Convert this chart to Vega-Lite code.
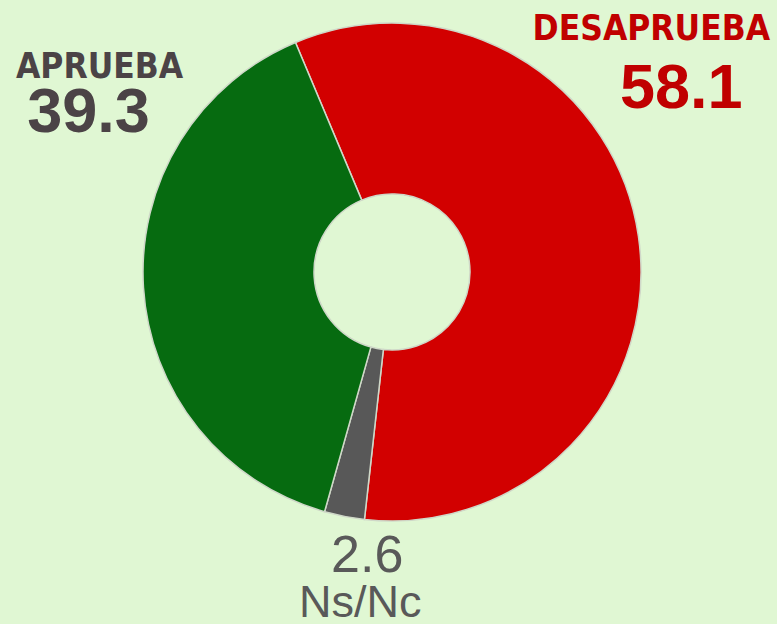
{
  "$schema": "https://vega.github.io/schema/vega-lite/v6.json",
  "width": 770,
  "height": 544,
  "autosize": {"type": "none"},
  "padding": {"left": 7, "right": 0, "top": 0, "bottom": 80},
  "background": "#E0F7D3",
  "config": {"view": {"stroke": null}},
  "data": {
    "values": [
      {"cat": "DESAPRUEBA", "value": 58.1, "order": 1},
      {"cat": "Ns/Nc", "value": 2.6, "order": 2},
      {"cat": "APRUEBA", "value": 39.3, "order": 3}
    ]
  },
  "encoding": {
    "theta": {"field": "value", "type": "quantitative", "stack": true, "scale": {"range": [-0.398, 5.885]}},
    "order": {"field": "order", "type": "quantitative"}
  },
  "layer": [
    {
      "mark": {"type": "arc", "outerRadius": 249, "innerRadius": 78, "stroke": "#cfd8c8", "strokeWidth": 1.5},
      "encoding": {
        "color": {"field": "cat", "type": "nominal", "legend": null,
          "scale": {"domain": ["DESAPRUEBA", "Ns/Nc", "APRUEBA"], "range": ["#D20000", "#585858", "#066B10"]}}
      }
    },
    {
      "mark": {"type": "text", "radius": 260, "dx": 2, "dy": -195, "align": "center", "baseline": "alphabetic", "font": "DejaVu Sans Condensed", "fontWeight": "bold", "fontSize": 35, "color": "#C00000"},
      "encoding": {"text": {"condition": {"test": "datum.cat === 'DESAPRUEBA'", "field": "cat"}, "value": ""}}
    },
    {
      "mark": {"type": "text", "radius": 260, "dx": 32, "dy": -127, "align": "center", "baseline": "alphabetic", "font": "Liberation Sans", "fontWeight": "bold", "fontSize": 63, "color": "#C00000"},
      "encoding": {"text": {"condition": {"test": "datum.cat === 'DESAPRUEBA'", "field": "value", "format": ".1f"}, "value": ""}}
    },
    {
      "mark": {"type": "text", "radius": 260, "dx": -33, "dy": -210, "align": "center", "baseline": "alphabetic", "font": "DejaVu Sans Condensed", "fontWeight": "bold", "fontSize": 35, "color": "#4B4346"},
      "encoding": {"text": {"condition": {"test": "datum.cat === 'APRUEBA'", "field": "cat"}, "value": ""}}
    },
    {
      "mark": {"type": "text", "radius": 260, "dx": -44, "dy": -156, "align": "center", "baseline": "alphabetic", "font": "Liberation Sans", "fontWeight": "bold", "fontSize": 63, "color": "#4B4346"},
      "encoding": {"text": {"condition": {"test": "datum.cat === 'APRUEBA'", "field": "value", "format": ".1f"}, "value": ""}}
    },
    {
      "mark": {"type": "text", "radius": 260, "dx": 25, "dy": 45, "align": "center", "baseline": "alphabetic", "font": "Liberation Sans", "fontSize": 52, "color": "#595959"},
      "encoding": {"text": {"condition": {"test": "datum.cat === 'Ns/Nc'", "field": "value", "format": ".1f"}, "value": ""}}
    },
    {
      "mark": {"type": "text", "radius": 260, "dx": 18, "dy": 90, "align": "center", "baseline": "alphabetic", "font": "Liberation Sans", "fontSize": 45, "color": "#595959"},
      "encoding": {"text": {"condition": {"test": "datum.cat === 'Ns/Nc'", "field": "cat"}, "value": ""}}
    }
  ]
}
